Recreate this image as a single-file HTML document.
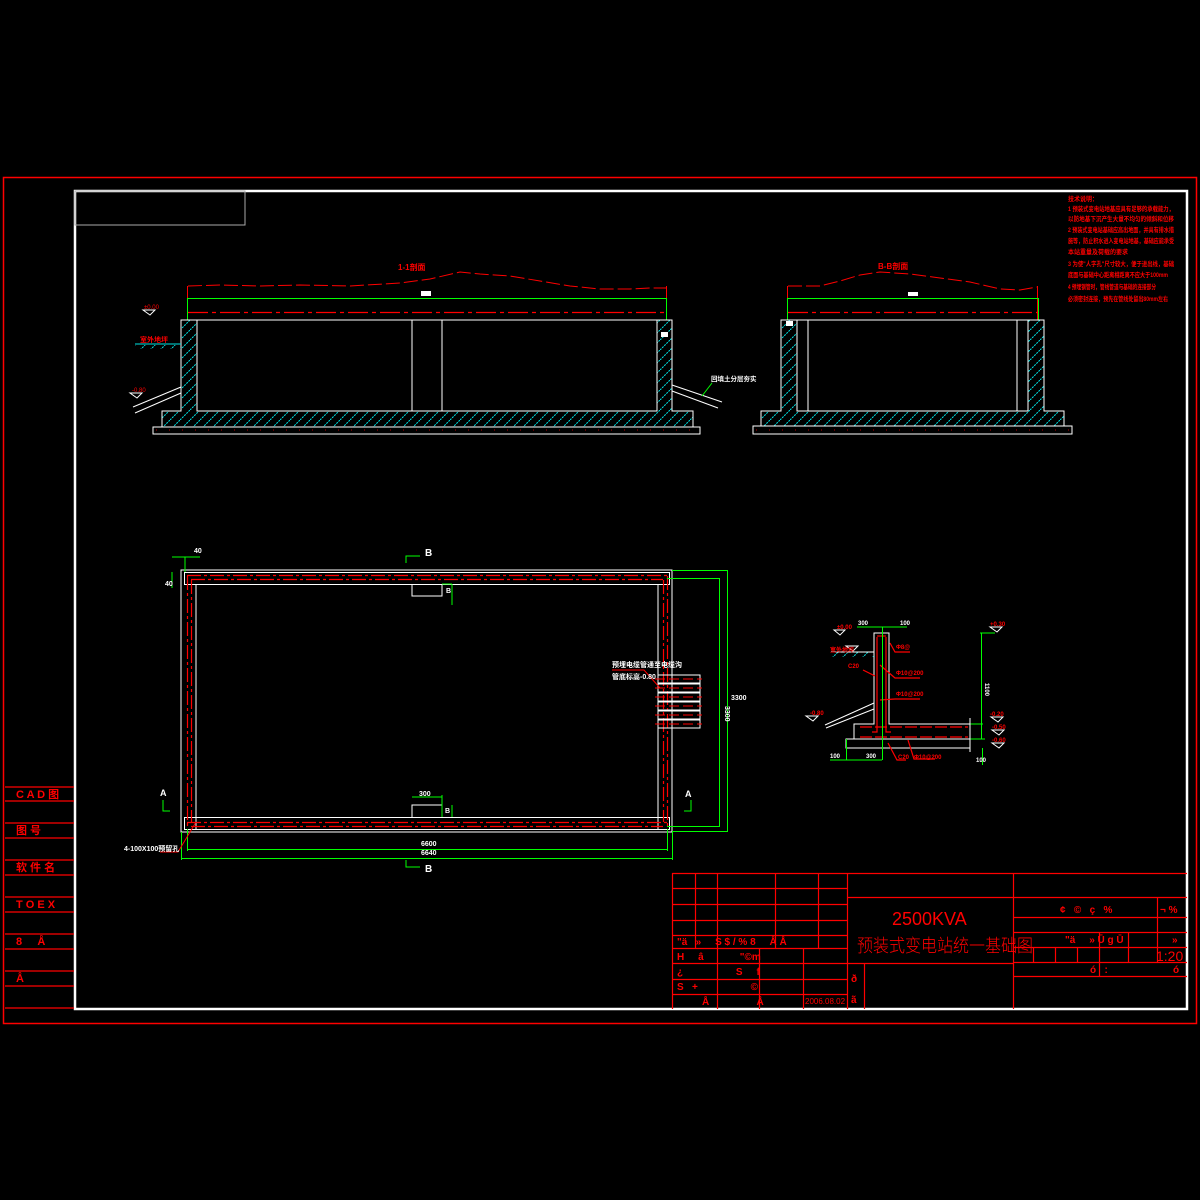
<!DOCTYPE html>
<html><head><meta charset="utf-8"><style>
html,body{margin:0;padding:0;background:#000;}
svg{display:block;}
text{font-family:"Liberation Sans","Noto Sans CJK SC",sans-serif;}
</style></head><body>
<svg width="1200" height="1200" viewBox="0 0 1200 1200" xmlns="http://www.w3.org/2000/svg">
<defs>
<pattern id="h" patternUnits="userSpaceOnUse" width="10" height="10">
<path d="M0,10 L10,0" stroke="#00e5e5" stroke-width="1" stroke-dasharray="2,1"/>
</pattern>
</defs>
<rect width="1200" height="1200" fill="#000"/>
<rect x="3.5" y="177.5" width="1193" height="846" fill="none" stroke="#f00" stroke-width="1.5"/>
<rect x="75" y="191" width="1112" height="818" fill="none" stroke="#fff" stroke-width="2.5"/>
<rect x="75" y="191" width="170" height="34" fill="none" stroke="#aaa" stroke-width="1"/>

<g stroke="#f00" stroke-width="1.2">
<line x1="5" y1="787" x2="74" y2="787"/><line x1="5" y1="801" x2="74" y2="801"/>
<line x1="5" y1="823" x2="74" y2="823"/><line x1="5" y1="838" x2="74" y2="838"/>
<line x1="5" y1="860" x2="74" y2="860"/><line x1="5" y1="875" x2="74" y2="875"/>
<line x1="5" y1="897" x2="74" y2="897"/><line x1="5" y1="912" x2="74" y2="912"/>
<line x1="5" y1="934" x2="74" y2="934"/><line x1="5" y1="949" x2="74" y2="949"/>
<line x1="5" y1="971" x2="74" y2="971"/><line x1="5" y1="986" x2="74" y2="986"/>
<line x1="5" y1="1008" x2="74" y2="1008"/>
</g>
<g fill="#f00" font-size="11" font-weight="bold">
<text x="16" y="798">C A D 图</text>
<text x="16" y="834">图 号</text>
<text x="16" y="871">软 件 名</text>
<text x="16" y="908">T O E X</text>
<text x="16" y="945">8 &#160;&#160;&#160; Å</text>
<text x="16" y="982">Å</text>
</g>

<g fill="#f00" font-size="6.5" font-weight="bold" lengthAdjust="spacingAndGlyphs">
<text x="1068" y="201" textLength="30" lengthAdjust="spacingAndGlyphs">技术说明：</text>
<text x="1068" y="211" textLength="106" lengthAdjust="spacingAndGlyphs">1 预装式变电站地基应具有足够的承载能力，</text>
<text x="1068" y="221" textLength="106" lengthAdjust="spacingAndGlyphs">以防地基下沉产生大量不均匀的倾斜和位移</text>
<text x="1068" y="232" textLength="106" lengthAdjust="spacingAndGlyphs">2 预装式变电站基础应高出地面，并具有排水措</text>
<text x="1068" y="243" textLength="106" lengthAdjust="spacingAndGlyphs">施等，防止积水进入变电站地基，基础应能承受</text>
<text x="1068" y="254" textLength="60" lengthAdjust="spacingAndGlyphs">本站重量及荷载的要求</text>
<text x="1068" y="266" textLength="106" lengthAdjust="spacingAndGlyphs">3 为使"人字孔"尺寸较大，便于进出线，基础</text>
<text x="1068" y="277" textLength="100" lengthAdjust="spacingAndGlyphs">底面与基础中心距离相距离不应大于100mm</text>
<text x="1068" y="289" textLength="88" lengthAdjust="spacingAndGlyphs">4 预埋钢管时，管线管道与基础的连接部分</text>
<text x="1068" y="301" textLength="100" lengthAdjust="spacingAndGlyphs">必须密封连接，预先在管线处留出80mm左右</text>
</g>

<!-- Section A-A -->
<g>
<text x="398" y="270" fill="#f00" font-size="8" font-weight="bold">1-1剖面</text>
<path d="M188,286 L220,285 L260,286 L300,285 L350,286 L400,283 L430,279 L460,272 L480,274 L510,276 L540,281 L570,286 L600,289 L630,289 L650,288 L666,288" fill="none" stroke="#f00" stroke-width="1" stroke-dasharray="14,4"/>
<line x1="187.5" y1="286" x2="187.5" y2="320" stroke="#f00"/>
<line x1="666.5" y1="286" x2="666.5" y2="320" stroke="#f00"/>
<line x1="187" y1="298.5" x2="666" y2="298.5" stroke="#0f0" stroke-width="1"/>
<line x1="187.5" y1="298" x2="187.5" y2="320" stroke="#0f0"/>
<line x1="666.5" y1="298" x2="666.5" y2="320" stroke="#0f0"/>
<rect x="421" y="291" width="10" height="5" fill="#fff"/>
<line x1="188" y1="312.5" x2="666" y2="312.5" stroke="#f00" stroke-width="1.2" stroke-dasharray="20,4,4,4"/>
<path d="M181,320 H672 V411 H693 V427 H162 V411 H181 Z" fill="url(#h)"/>
<rect x="197" y="320" width="460" height="91" fill="#000"/>
<path d="M181,320 H672 V411 H693 V427 H162 V411 H181 Z" fill="none" stroke="#fff" stroke-width="1"/>
<rect x="197" y="320" width="460" height="91" fill="none" stroke="#fff" stroke-width="1"/>
<line x1="412" y1="320" x2="412" y2="411" stroke="#fff"/>
<line x1="442" y1="320" x2="442" y2="411" stroke="#fff"/>
<rect x="153" y="427" width="547" height="7" fill="none" stroke="#fff"/>
<line x1="156" y1="430" x2="697" y2="430" stroke="#f00" stroke-width="0.8" stroke-dasharray="1,12"/>
<path d="M133,407 L181,387 M135,413 L181,393" stroke="#fff" fill="none"/>
<path d="M672,385 L722,402 M672,391 L718,408" stroke="#fff" fill="none"/>
<line x1="135" y1="344" x2="181" y2="344" stroke="#00e5e5"/>
<rect x="135" y="345" width="46" height="4" fill="url(#h)"/>
<text x="140" y="342" fill="#f00" font-size="7" font-weight="bold">室外地坪</text>
<path d="M143,310 h12 l-5,5 z" fill="none" stroke="#fff"/>
<text x="144" y="309" fill="#f00" font-size="6">±0.00</text>
<path d="M130,393 h12 l-5,5 z" fill="none" stroke="#fff"/>
<text x="132" y="392" fill="#f00" font-size="6">-0.80</text>
<rect x="661" y="332" width="7" height="5" fill="#fff"/>
<text x="711" y="381" fill="#fff" font-size="6.5" font-weight="bold">回填土分层夯实</text>
<line x1="702" y1="396" x2="712" y2="383" stroke="#0f0"/>
</g>

<!-- Section B-B -->
<g>
<text x="878" y="269" fill="#f00" font-size="8" font-weight="bold">B-B剖面</text>
<path d="M788,286 L820,286 L840,281 L860,275 L880,272 L910,274 L940,278 L970,282 L1000,289 L1020,290 L1037,287" fill="none" stroke="#f00" stroke-width="1" stroke-dasharray="14,4"/>
<line x1="787.5" y1="286" x2="787.5" y2="320" stroke="#f00"/>
<line x1="1037.5" y1="286" x2="1037.5" y2="320" stroke="#f00"/>
<line x1="787" y1="298.5" x2="1038" y2="298.5" stroke="#0f0"/>
<line x1="787.5" y1="298" x2="787.5" y2="320" stroke="#0f0"/>
<line x1="1038.5" y1="298" x2="1038.5" y2="320" stroke="#0f0"/>
<rect x="908" y="292" width="10" height="4" fill="#fff"/>
<line x1="788" y1="312.5" x2="1037" y2="312.5" stroke="#f00" stroke-width="1.2" stroke-dasharray="20,4,4,4"/>
<path d="M781,320 H1044 V411 H1064 V426 H761 V411 H781 Z" fill="url(#h)"/>
<rect x="797" y="320" width="231" height="91" fill="#000"/>
<path d="M781,320 H1044 V411 H1064 V426 H761 V411 H781 Z" fill="none" stroke="#fff"/>
<rect x="797" y="320" width="231" height="91" fill="none" stroke="#fff"/>
<line x1="808" y1="320" x2="808" y2="411" stroke="#fff"/>
<line x1="1017" y1="320" x2="1017" y2="411" stroke="#fff"/>
<rect x="753" y="426" width="319" height="8" fill="none" stroke="#fff"/>
<line x1="756" y1="430" x2="1069" y2="430" stroke="#f00" stroke-width="0.8" stroke-dasharray="1,12"/>
<rect x="786" y="321" width="7" height="5" fill="#fff"/>
</g>

<!-- Plan -->
<g fill="none">
<rect x="181" y="570" width="491" height="262" stroke="#fff"/>
<rect x="184.5" y="572.5" width="485" height="12" stroke="#fff"/>
<rect x="184.5" y="817.5" width="485" height="12" stroke="#fff"/>
<path d="M196,584 V829 M658,584 V829" stroke="#fff"/>
<path d="M412,584 V596 H442 V584" stroke="#fff"/>
<path d="M412,817 V805 H442 V817" stroke="#fff"/>
<g stroke="#f00" stroke-width="1.2" stroke-dasharray="14,3,3,3">
<line x1="187" y1="575.5" x2="667" y2="575.5"/><line x1="191" y1="579.5" x2="663" y2="579.5"/>
<line x1="187" y1="822.5" x2="667" y2="822.5"/><line x1="191" y1="826.5" x2="663" y2="826.5"/>
<line x1="187.5" y1="576" x2="187.5" y2="826"/><line x1="191.5" y1="580" x2="191.5" y2="822"/>
<line x1="663.5" y1="580" x2="663.5" y2="822"/><line x1="667.5" y1="576" x2="667.5" y2="826"/>
</g>
<g stroke="#0f0">
<line x1="187" y1="849.5" x2="668" y2="849.5"/><line x1="181" y1="858.5" x2="673" y2="858.5"/>
<line x1="187.5" y1="829" x2="187.5" y2="851"/><line x1="667.5" y1="829" x2="667.5" y2="851"/>
<line x1="181.5" y1="832" x2="181.5" y2="860"/><line x1="672.5" y1="832" x2="672.5" y2="860"/>
<line x1="719.5" y1="578" x2="719.5" y2="827"/><line x1="727.5" y1="570" x2="727.5" y2="832"/>
<line x1="672" y1="570.5" x2="728" y2="570.5"/><line x1="667" y1="578.5" x2="720" y2="578.5"/>
<line x1="672" y1="831.5" x2="728" y2="831.5"/><line x1="667" y1="826.5" x2="720" y2="826.5"/>
<line x1="172" y1="572" x2="172" y2="588"/><line x1="172" y1="557" x2="200" y2="557"/>
<line x1="185" y1="557" x2="185" y2="572"/>
<path d="M406,563 V556 H420"/><path d="M406,860 V867 H420"/>
<path d="M163,800 V811 H170"/><path d="M691,800 V811 H684"/>
<path d="M412,797 H442 M442,795 V817 M452,805 V817 M452,584 V605 M442,584 H452"/>
</g>
<g stroke="#fff">
<rect x="658" y="675" width="42" height="8"/><rect x="658" y="684" width="42" height="8"/>
<rect x="658" y="693" width="42" height="8"/><rect x="658" y="702" width="42" height="8"/>
<rect x="658" y="711" width="42" height="8"/><rect x="658" y="720" width="42" height="8"/>
</g>
<g stroke="#f00" stroke-dasharray="10,4">
<line x1="655" y1="679" x2="702" y2="679"/><line x1="655" y1="688" x2="702" y2="688"/>
<line x1="655" y1="697" x2="702" y2="697"/><line x1="655" y1="706" x2="702" y2="706"/>
<line x1="655" y1="715" x2="702" y2="715"/><line x1="655" y1="724" x2="702" y2="724"/>
</g>
<path d="M612,670 H644 L660,688" stroke="#f00"/>
<path d="M160,852 H178 L196,822" stroke="#f00"/>
</g>
<g fill="#fff" font-size="7" font-weight="bold">
<text x="612" y="667">预埋电缆管通至电缆沟</text>
<text x="612" y="679">管底标高-0.80</text>
<text x="124" y="851">4-100X100预留孔</text>
<text x="425" y="556" font-size="10">B</text>
<text x="425" y="872" font-size="10">B</text>
<text x="160" y="796" font-size="9">A</text>
<text x="685" y="797" font-size="9">A</text>
<text x="194" y="553">40</text>
<text x="165" y="586">40</text>
<text x="446" y="593">B</text>
<text x="419" y="796">300</text>
<text x="445" y="813">B</text>
<text x="421" y="846">6600</text>
<text x="421" y="855">6640</text>
<text x="725" y="706" transform="rotate(90 725 706)">3300</text>
<text x="731" y="700">3300</text>
</g>

<!-- Detail -->
<g fill="none">
<path d="M874,633 V724 H854 V739 H970 V724 H889 V633 Z" stroke="#fff"/>
<rect x="846" y="739" width="124" height="9" stroke="#fff"/>
<rect x="831" y="652" width="43" height="5" fill="url(#h)" stroke="none"/>
<line x1="831" y1="652" x2="874" y2="652" stroke="#fff"/>
<path d="M825,725 L874,703 M826,728 L874,709" stroke="#fff"/>
<g stroke="#f00" stroke-width="1.2">
<path d="M877,637 V732 H872"/><path d="M886,637 V732 H891"/>
<line x1="877" y1="636" x2="886" y2="636"/>
<line x1="860" y1="727" x2="968" y2="727" stroke-dasharray="12,3"/>
<line x1="860" y1="737" x2="968" y2="737" stroke-dasharray="12,3"/>
<path d="M890,643 L895,652 H910 M880,665 L895,678 H920 M880,700 L895,699 H920 M863,670 L875,676"/>
<path d="M888,743 L897,760 H906 M908,740 L914,759 H935"/>
</g>
<g stroke="#0f0">
<line x1="882.5" y1="627" x2="882.5" y2="760"/>
<line x1="857" y1="627" x2="907" y2="627"/>
<line x1="846.5" y1="739" x2="846.5" y2="760"/>
<line x1="830" y1="760" x2="882" y2="760"/>
<line x1="981.5" y1="633" x2="981.5" y2="739"/>
<line x1="980" y1="633" x2="995" y2="633"/>
<line x1="970" y1="724" x2="983" y2="724"/><line x1="970" y1="739" x2="985" y2="739"/>
<line x1="982.5" y1="748" x2="982.5" y2="765"/>
</g>
<path d="M970,718 V752" stroke="#fff"/>
<path d="M834,630 h11 l-5,5 z M846,646 h12 l-5,5 z M806,716 h12 l-5,5 z M990,627 h12 l-5,5 z M991,717 h12 l-5,5 z M992,730 h12 l-5,5 z M992,743 h12 l-5,5 z" stroke="#fff"/>
</g>
<g font-size="6" font-weight="bold">
<text x="858" y="625" fill="#fff">300</text><text x="900" y="625" fill="#fff">100</text>
<text x="896" y="649" fill="#f00">Φ8@</text><text x="896" y="675" fill="#f00">Φ10@200</text>
<text x="896" y="696" fill="#f00">Φ10@200</text><text x="848" y="668" fill="#f00">C20</text>
<text x="837" y="629" fill="#f00">±0.00</text><text x="830" y="652" fill="#f00">室外地坪</text>
<text x="810" y="715" fill="#f00">-0.80</text><text x="990" y="626" fill="#f00">+0.30</text>
<text x="990" y="716" fill="#f00">-0.20</text><text x="992" y="729" fill="#f00">-0.50</text>
<text x="992" y="742" fill="#f00">-0.60</text>
<text x="898" y="759" fill="#f00">C20</text><text x="914" y="759" fill="#f00">Φ10@200</text>
<text x="830" y="758" fill="#fff">100</text><text x="866" y="758" fill="#fff">300</text>
<text x="976" y="762" fill="#fff">100</text>
<text x="985" y="683" fill="#fff" transform="rotate(90 985 683)">1100</text>
</g>

<!-- Title block -->
<g stroke="#f00" stroke-width="1.2" fill="none">
<line x1="672" y1="873.5" x2="1187" y2="873.5"/>
<line x1="672.5" y1="873" x2="672.5" y2="1009"/>
<line x1="847.5" y1="873" x2="847.5" y2="1009"/>
<line x1="1013.5" y1="873" x2="1013.5" y2="1009"/>
<line x1="672" y1="888.5" x2="847" y2="888.5"/><line x1="672" y1="904.5" x2="847" y2="904.5"/>
<line x1="672" y1="920.5" x2="847" y2="920.5"/><line x1="672" y1="935.5" x2="847" y2="935.5"/>
<line x1="672" y1="948.5" x2="847" y2="948.5"/><line x1="672" y1="963.5" x2="847" y2="963.5"/>
<line x1="672" y1="979.5" x2="847" y2="979.5"/><line x1="672" y1="994.5" x2="847" y2="994.5"/>
<line x1="695.5" y1="873" x2="695.5" y2="948"/><line x1="717.5" y1="873" x2="717.5" y2="1009"/>
<line x1="775.5" y1="873" x2="775.5" y2="948"/><line x1="818.5" y1="873" x2="818.5" y2="948"/>
<line x1="759.5" y1="948" x2="759.5" y2="1009"/><line x1="803.5" y1="948" x2="803.5" y2="1009"/>
<line x1="847" y1="897.5" x2="1013" y2="897.5"/><line x1="847" y1="963.5" x2="1013" y2="963.5"/>
<line x1="864.5" y1="963" x2="864.5" y2="1009"/>
<line x1="1013" y1="897.5" x2="1187" y2="897.5"/><line x1="1013" y1="917.5" x2="1187" y2="917.5"/>
<line x1="1013" y1="932.5" x2="1187" y2="932.5"/><line x1="1013" y1="947.5" x2="1187" y2="947.5"/>
<line x1="1013" y1="962.5" x2="1187" y2="962.5"/><line x1="1013" y1="976.5" x2="1187" y2="976.5"/>
<line x1="1157.5" y1="897" x2="1157.5" y2="962"/>
<line x1="1099.5" y1="932" x2="1099.5" y2="976"/><line x1="1128.5" y1="932" x2="1128.5" y2="962"/>
<line x1="1033.5" y1="947" x2="1033.5" y2="962"/><line x1="1055.5" y1="947" x2="1055.5" y2="962"/>
<line x1="1077.5" y1="947" x2="1077.5" y2="962"/>
</g>
<g fill="#f00" font-size="10" font-weight="bold">
<text x="677" y="945">"ä &#160; » &#160; &#160; S $ / % 8 &#160; &#160; Å Å</text>
<text x="677" y="960">H &#160; &#160; â &#160; &#160; &#160; &#160; &#160; &#160; "©m</text>
<text x="677" y="975">¿ &#160; &#160; &#160; &#160; &#160; &#160; &#160; &#160; &#160; S &#160; &#160; f</text>
<text x="677" y="990">S &#160; + &#160; &#160; &#160; &#160; &#160; &#160; &#160; &#160; &#160; ©</text>
<text x="702" y="1005">Å &#160; &#160; &#160; &#160; &#160; &#160; &#160; &#160; Å</text>
<text x="851" y="982">ð</text><text x="851" y="1003">ã</text>
<text x="1060" y="913">¢ &#160; © &#160; ç &#160; %</text><text x="1160" y="913">¬ %</text>
<text x="1065" y="943">"ä &#160; &#160; » Ū g Ū</text><text x="1172" y="943">»</text>
<text x="1090" y="973">ó &#160; : </text><text x="1173" y="973">ó</text>
</g>
<text x="805" y="1004" fill="#f00" font-size="8">2006.08.02</text>
<text x="892" y="925" fill="#f00" font-size="18" font-family="Liberation Sans, sans-serif">2500KVA</text>
<text x="857" y="952" fill="#f00" font-size="18" textLength="176" lengthAdjust="spacingAndGlyphs" font-family="'Noto Sans CJK SC', sans-serif" font-weight="300">预装式变电站统一基础图</text>
<text x="1156" y="961" fill="#f00" font-size="14">1:20</text>
</svg>
</body></html>
